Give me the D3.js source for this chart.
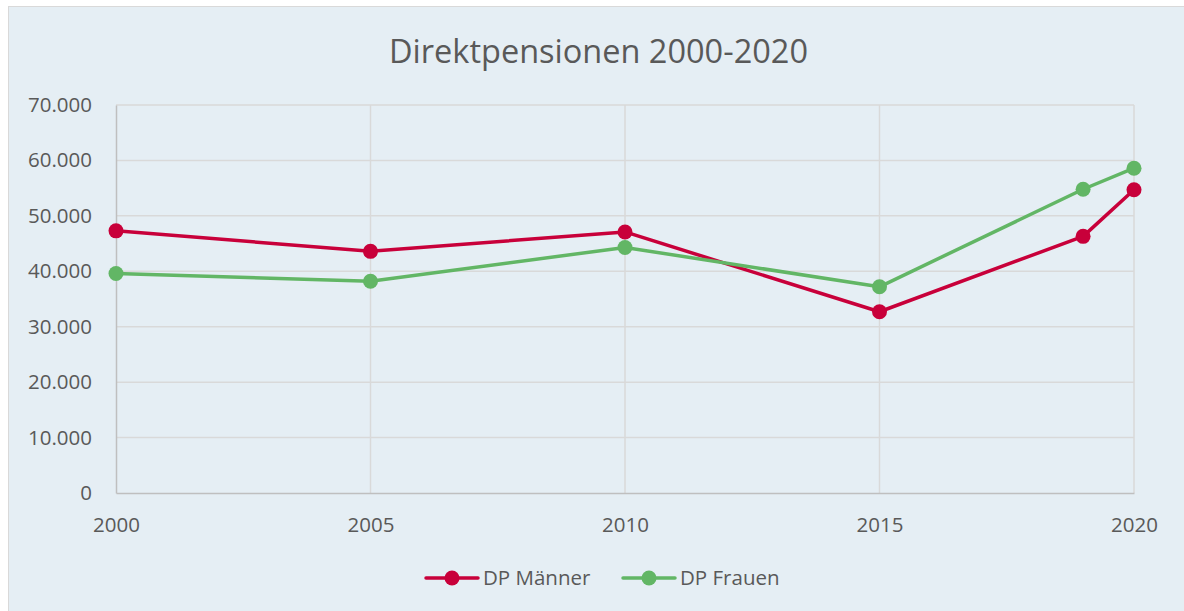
<!DOCTYPE html>
<html>
<head>
<meta charset="utf-8">
<script src="https://cdn.jsdelivr.net/npm/d3@7"></script>
<style>
  body { margin: 0; background: #fff; }
  text { font-family: "Open Sans", sans-serif; fill: #595959; }
</style>
</head>
<body>
<div id="chart"></div>
<script>
// chart data
var years = [2000, 2005, 2010, 2015, 2019, 2020];
var maenner = [47300, 43600, 47100, 32700, 46300, 54700];
var frauen = [39600, 38200, 44300, 37200, 54800, 58600];
var xTicks = [2000, 2005, 2010, 2015, 2020];
var yTicks = [0, 10000, 20000, 30000, 40000, 50000, 60000, 70000];
var seriesNames = ["DP Männer", "DP Frauen"];

var svgWidth = 1184;
var svgHeight = 611;

var margin = { top: 105, right: 50, bottom: 118, left: 116 };
var width = svgWidth - margin.left - margin.right;
var height = svgHeight - margin.top - margin.bottom;

var svg = d3.select("#chart")
  .append("svg")
  .attr("width", svgWidth)
  .attr("height", svgHeight);

// background + border
svg.append("rect")
  .attr("x", 8.5)
  .attr("y", 6.5)
  .attr("width", svgWidth + 10)
  .attr("height", svgHeight + 10)
  .attr("fill", "#e5eef4")
  .attr("stroke", "#d9d9d9");

svg.append("text")
  .attr("x", 598.5)
  .attr("y", 63)
  .attr("text-anchor", "middle")
  .attr("font-size", "32.5px")
  .text("Direktpensionen 2000-2020");

var chartGroup = svg.append("g")
  .attr("transform", `translate(${margin.left}, ${margin.top})`);

var xScale = d3.scaleLinear()
  .domain([2000, 2020])
  .range([0, width]);

var yScale = d3.scaleLinear()
  .domain([0, 70000])
  .range([height, 0]);

var fmt = d3.formatLocale({ decimal: ",", thousands: ".", grouping: [3], currency: ["", "€"] }).format(",");

// horizontal grid
chartGroup.append("g")
  .selectAll("line")
  .data(yTicks.slice(1))
  .enter()
  .append("line")
  .attr("x1", 0)
  .attr("x2", width)
  .attr("y1", d => yScale(d))
  .attr("y2", d => yScale(d))
  .attr("stroke", "#d9d9d9")
  .attr("stroke-width", 1.5);

// vertical grid
chartGroup.append("g")
  .selectAll("line")
  .data(xTicks.slice(1))
  .enter()
  .append("line")
  .attr("x1", d => xScale(d))
  .attr("x2", d => xScale(d))
  .attr("y1", 0)
  .attr("y2", height)
  .attr("stroke", "#d9d9d9")
  .attr("stroke-width", 1.5);

// axes
var leftAxis = d3.axisLeft(yScale).tickValues(yTicks).tickSize(0).tickPadding(24).tickFormat(fmt);
var bottomAxis = d3.axisBottom(xScale).tickValues(xTicks).tickSize(0).tickPadding(24).tickFormat(d3.format("d"));

var yAxisG = chartGroup.append("g").call(leftAxis);
yAxisG.select(".domain").attr("stroke", "#bfbfbf").attr("stroke-width", 1.5);
yAxisG.selectAll("text").attr("font-size", "20.5px").attr("fill", "#595959").attr("font-family", "Open Sans");

var xAxisG = chartGroup.append("g")
  .attr("transform", `translate(0, ${height})`)
  .call(bottomAxis);
xAxisG.select(".domain").attr("stroke", "#bfbfbf").attr("stroke-width", 1.5);
xAxisG.selectAll("text").attr("font-size", "20.5px").attr("fill", "#595959").attr("font-family", "Open Sans");

var series = [
  { name: seriesNames[0], values: maenner, color: "#c8003a" },
  { name: seriesNames[1], values: frauen, color: "#62b665" }
];

var line = d3.line()
  .x((d, i) => xScale(years[i]))
  .y(d => yScale(d));

series.forEach(function(s) {
  chartGroup.append("path")
    .datum(s.values)
    .attr("fill", "none")
    .attr("stroke", s.color)
    .attr("stroke-width", 3.5)
    .attr("stroke-linejoin", "round")
    .attr("d", line);

  chartGroup.selectAll(".dot-" + s.name)
    .data(s.values)
    .enter()
    .append("circle")
    .attr("cx", (d, i) => xScale(years[i]))
    .attr("cy", d => yScale(d))
    .attr("r", 7.5)
    .attr("fill", s.color);
});

// legend
var legend = svg.append("g").attr("transform", "translate(424, 578)");
var legendX = [0, 197];
series.forEach(function(s, i) {
  var g = legend.append("g").attr("transform", `translate(${legendX[i]}, 0)`);
  g.append("line")
    .attr("x1", 2).attr("x2", 54)
    .attr("y1", 0).attr("y2", 0)
    .attr("stroke", s.color)
    .attr("stroke-width", 3.5)
    .attr("stroke-linecap", "round");
  g.append("circle")
    .attr("cx", 28).attr("cy", 0)
    .attr("r", 7.5)
    .attr("fill", s.color);
  g.append("text")
    .attr("x", 59)
    .attr("y", 7)
    .attr("font-size", "20.5px")
    .text(s.name);
});
</script>
</body>
</html>
